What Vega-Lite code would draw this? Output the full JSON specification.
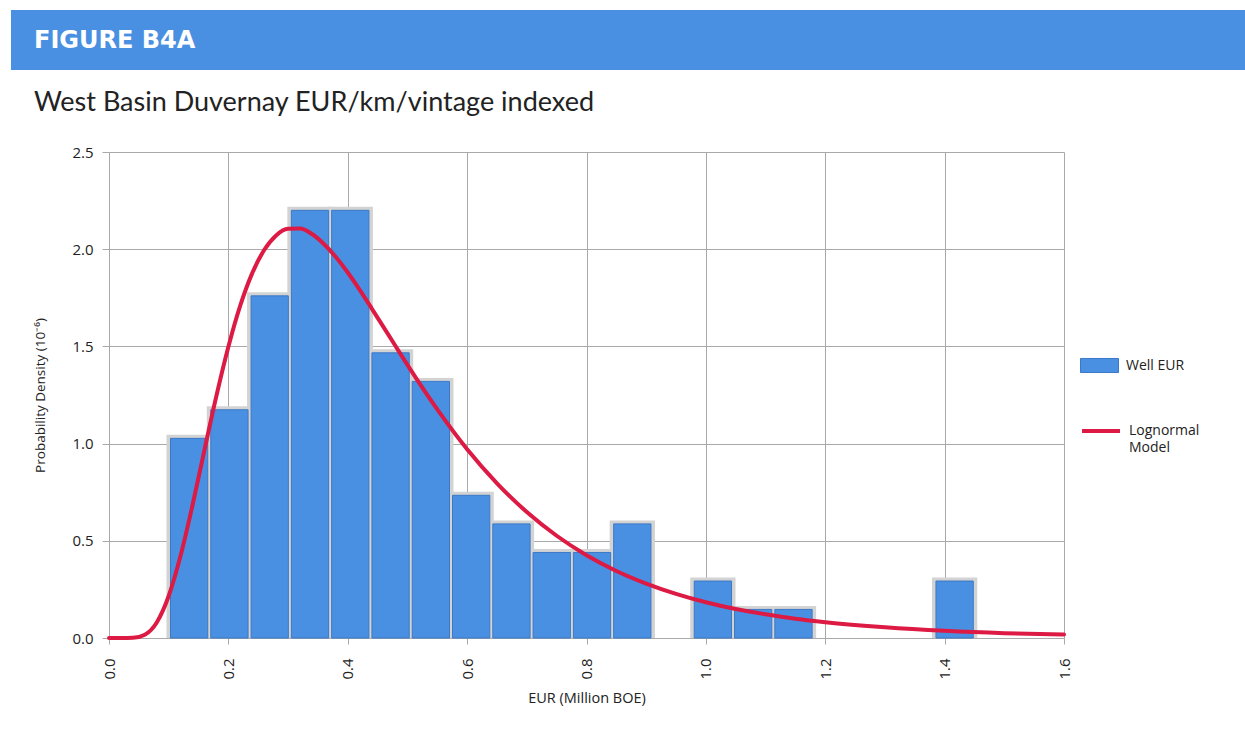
{
  "$schema": "https://vega.github.io/schema/vega-lite/v6.json",
  "padding": {"left": 11, "top": 10, "right": 0, "bottom": 10},
  "background": "white",
  "spacing": 19,
  "resolve": {"scale": {"x": "independent", "y": "independent"}},
  "config": {
    "view": {"stroke": null},
    "font": "Open Sans",
    "axis": {
      "domain": false,
      "grid": true,
      "gridColor": "#a9a9a9",
      "gridWidth": 1,
      "tickColor": "#a9a9a9",
      "labelFont": "Open Sans",
      "labelFontSize": 15,
      "labelColor": "#222222",
      "titleFont": "Open Sans",
      "titleFontSize": 13.5,
      "titleFontWeight": "normal",
      "titleColor": "#222222"
    }
  },
  "datasets": {
    "bins": [
      {"x0": 0.1005, "x1": 0.168, "density": 1.027},
      {"x0": 0.168, "x1": 0.2355, "density": 1.174},
      {"x0": 0.2355, "x1": 0.303, "density": 1.760},
      {"x0": 0.303, "x1": 0.3705, "density": 2.200},
      {"x0": 0.3705, "x1": 0.438, "density": 2.200},
      {"x0": 0.438, "x1": 0.5055, "density": 1.467},
      {"x0": 0.5055, "x1": 0.573, "density": 1.320},
      {"x0": 0.573, "x1": 0.6405, "density": 0.734},
      {"x0": 0.6405, "x1": 0.708, "density": 0.587},
      {"x0": 0.708, "x1": 0.7755, "density": 0.440},
      {"x0": 0.7755, "x1": 0.843, "density": 0.440},
      {"x0": 0.843, "x1": 0.9105, "density": 0.587},
      {"x0": 0.978, "x1": 1.0455, "density": 0.293},
      {"x0": 1.0455, "x1": 1.113, "density": 0.147},
      {"x0": 1.113, "x1": 1.1805, "density": 0.147},
      {"x0": 1.383, "x1": 1.4505, "density": 0.293}
    ],
    "curve": [
      {"x": 0, "y": 0}, {"x": 0.02, "y": 0}, {"x": 0.04, "y": 0.001}, {"x": 0.06, "y": 0.017},
      {"x": 0.08, "y": 0.080}, {"x": 0.10, "y": 0.216}, {"x": 0.12, "y": 0.424}, {"x": 0.14, "y": 0.684},
      {"x": 0.16, "y": 0.968}, {"x": 0.18, "y": 1.246}, {"x": 0.20, "y": 1.498}, {"x": 0.22, "y": 1.711},
      {"x": 0.24, "y": 1.877}, {"x": 0.26, "y": 1.996}, {"x": 0.28, "y": 2.071}, {"x": 0.30, "y": 2.105},
      {"x": 0.32, "y": 2.106}, {"x": 0.34, "y": 2.078}, {"x": 0.36, "y": 2.027}, {"x": 0.38, "y": 1.960},
      {"x": 0.40, "y": 1.880}, {"x": 0.42, "y": 1.791}, {"x": 0.44, "y": 1.696}, {"x": 0.46, "y": 1.599},
      {"x": 0.48, "y": 1.502}, {"x": 0.50, "y": 1.405}, {"x": 0.55, "y": 1.176}, {"x": 0.60, "y": 0.971},
      {"x": 0.65, "y": 0.796}, {"x": 0.70, "y": 0.648}, {"x": 0.75, "y": 0.526}, {"x": 0.80, "y": 0.426},
      {"x": 0.85, "y": 0.345}, {"x": 0.90, "y": 0.280}, {"x": 0.95, "y": 0.227}, {"x": 1.00, "y": 0.184},
      {"x": 1.05, "y": 0.149}, {"x": 1.10, "y": 0.122}, {"x": 1.15, "y": 0.099}, {"x": 1.20, "y": 0.081},
      {"x": 1.30, "y": 0.055}, {"x": 1.40, "y": 0.037}, {"x": 1.50, "y": 0.025}, {"x": 1.60, "y": 0.018}
    ],
    "header": [{"label": "FIGURE B4A"}],
    "empty": []
  },
  "vconcat": [
    {
      "width": 1234,
      "height": 60,
      "view": {"fill": "#4a90e2", "stroke": null},
      "data": {"name": "header"},
      "mark": {"type": "text", "align": "left", "baseline": "middle", "dx": 23, "dy": 1, "font": "DejaVu Sans", "fontSize": 24, "fontWeight": "bold", "color": "#ffffff"},
      "encoding": {
        "text": {"field": "label", "type": "nominal"},
        "x": {"datum": 0, "type": "quantitative", "scale": {"domain": [0, 1]}, "axis": null},
        "y": {"datum": 0.5, "type": "quantitative", "scale": {"domain": [0, 1]}, "axis": null}
      }
    },
    {
      "spacing": 21,
      "resolve": {"scale": {"x": "independent", "y": "independent"}},
      "hconcat": [
        {
          "width": 1,
          "height": 486,
          "data": {"name": "empty"},
          "mark": "point"
        },
        {
          "width": 955,
          "height": 486,
          "title": {
            "text": "West Basin Duvernay EUR/km/vintage indexed",
            "anchor": "start",
            "frame": "bounds",
            "font": "Lato",
            "fontSize": 27,
            "fontWeight": "normal",
            "color": "#222222",
            "offset": 28
          },
          "layer": [
            {
              "data": {"name": "bins"},
              "mark": {"type": "rect", "fill": "#d3d3d3", "xOffset": -2.5, "x2Offset": 2.5, "yOffset": -3.5},
              "encoding": {
                "x": {
                  "field": "x0", "type": "quantitative",
                  "scale": {"domain": [0, 1.6], "nice": false, "zero": false},
                  "title": "EUR (Million BOE)",
                  "axis": {
                    "values": [0, 0.2, 0.4, 0.6, 0.8, 1.0, 1.2, 1.4, 1.6],
                    "format": ".1f", "labelAngle": 270, "labelFlush": false, "labelOverlap": false,
                    "labelPadding": 14, "tickSize": 6, "titlePadding": 12, "titleFontSize": 14.5
                  }
                },
                "x2": {"field": "x1"},
                "y": {
                  "field": "density", "type": "quantitative",
                  "scale": {"domain": [0, 2.5], "nice": false},
                  "title": "Probability Density (10⁻⁶)",
                  "axis": {
                    "values": [0, 0.5, 1.0, 1.5, 2.0, 2.5],
                    "format": ".1f", "labelPadding": 9, "tickSize": 7, "titlePadding": 24, "labelOverlap": false
                  }
                },
                "y2": {"datum": 0}
              }
            },
            {
              "data": {"name": "bins"},
              "mark": {"type": "rect", "stroke": "#3b78c6", "strokeWidth": 1, "xOffset": 1.5, "x2Offset": -1.5},
              "encoding": {
                "x": {"field": "x0", "type": "quantitative", "title": "EUR (Million BOE)"},
                "x2": {"field": "x1"},
                "y": {"field": "density", "type": "quantitative", "title": "Probability Density (10⁻⁶)"},
                "y2": {"datum": 0},
                "fill": {
                  "datum": "Well EUR", "type": "nominal",
                  "scale": {"range": ["#4a90e2"]},
                  "legend": {
                    "orient": "none", "legendX": 1069, "legendY": 336, "title": null,
                    "symbolType": "M-1,-0.37H1V0.37H-1Z", "symbolSize": 1444,
                    "symbolStrokeColor": "#3b78c6", "symbolStrokeWidth": 1,
                    "labelFont": "Open Sans", "labelFontSize": 14, "labelColor": "#222222", "labelOffset": 7
                  }
                }
              }
            },
            {
              "data": {"name": "curve"},
              "mark": {"type": "line", "strokeWidth": 4, "interpolate": "monotone", "strokeCap": "round"},
              "encoding": {
                "x": {"field": "x", "type": "quantitative", "title": "EUR (Million BOE)"},
                "y": {"field": "y", "type": "quantitative", "title": "Probability Density (10⁻⁶)"},
                "stroke": {
                  "datum": "Lognormal Model", "type": "nominal",
                  "scale": {"range": ["#dc1a44"]},
                  "legend": {
                    "orient": "none", "legendX": 1069, "legendY": 400, "title": null,
                    "symbolType": "stroke", "symbolSize": 1444, "symbolStrokeWidth": 4,
                    "labelExpr": "datum.label == 'Lognormal Model' ? ['Lognormal', 'Model'] : datum.label",
                    "labelFont": "Open Sans", "labelFontSize": 14, "labelColor": "#222222", "labelOffset": 7,
                    "encode": {"labels": {"update": {"lineHeight": {"value": 17}}}}
                  }
                }
              }
            }
          ]
        }
      ]
    }
  ]
}
